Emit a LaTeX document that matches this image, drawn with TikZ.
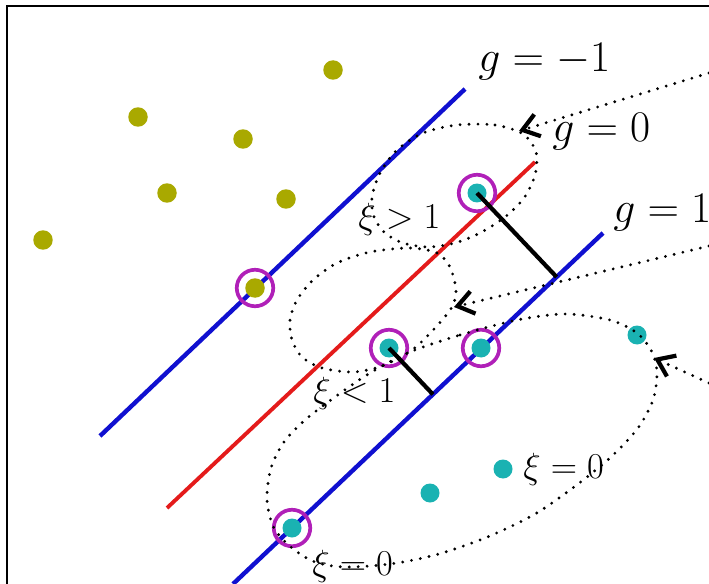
\documentclass[tikz,border=0pt]{standalone}
\usepackage{amsmath}
\usetikzlibrary{
  arrows.meta,
  calc
}
\definecolor{classa}{HTML}{A9A900}
\definecolor{classb}{HTML}{1AB2B2}
\definecolor{ring}{HTML}{B020B8}
\definecolor{marginblue}{HTML}{1010D0}
\definecolor{boundred}{HTML}{E41B1B}
\tikzset{
  plotframe/.style={
    draw=black,
    line width=1.1pt
  },
  marginline/.style={
    draw=marginblue,
    line width=2.5pt
  },
  boundline/.style={
    draw=boundred,
    line width=2.2pt
  },
  slackline/.style={
    draw=black,
    line width=2.4pt
  },
  dota/.style={
    circle,
    fill=classa,
    minimum size=3.9mm,
    inner sep=0pt
  },
  dotb/.style={
    circle,
    fill=classb,
    minimum size=3.8mm,
    inner sep=0pt
  },
  svring/.style={
    circle,
    draw=ring,
    line width=2.1pt,
    minimum size=7.3mm,
    inner sep=0pt
  },
  freehand/.style={
    dash pattern=on 0pt off 5.1pt,
    line cap=round,
    line width=1.8pt
  },
  notearrow/.style={
    freehand,
    -{Straight Barb[length=9pt, width=13pt, line width=2.4pt]}
  },
  glabel/.style={
    anchor=base west,
    inner sep=0pt,
    font=\fontsize{23.5}{28}\selectfont
  },
  xilabel/.style={
    anchor=base west,
    inner sep=0pt,
    font=\fontsize{21}{25}\selectfont
  }
}

\begin{document}
\begin{tikzpicture}[x=0.02cm, y=-0.02cm]
  \useasboundingbox (0,0) rectangle (709,584);
  \draw[plotframe] (7,590) -- (7,6) -- (715,6);

  % margins and decision boundary
  \coordinate (m1a) at (100,436);
  \coordinate (m1b) at (465,89);
  \coordinate (m0a) at (167,508);
  \coordinate (m0b) at (535,162);
  \coordinate (m2a) at (233,584);
  \coordinate (m2b) at (603,233);
  \draw[marginline] (m1a) -- (m1b);
  \draw[boundline] (m0a) -- (m0b);
  \draw[marginline] (m2a) -- (m2b);

  % data points
  \foreach \n/\x/\y in {a1/333/70,a2/138/117,a3/243/139,a4/167/193,
                        a5/286/199,a6/43/240,a7/255/288}{
    \node[dota] (\n) at (\x,\y) {};
  }
  \foreach \n/\x/\y in {b1/477/193,b2/389/348,b3/481/348,b4/637/335,
                        b5/503/469,b6/430/493,b7/292/528}{
    \node[dotb] (\n) at (\x,\y) {};
  }
  \foreach \n in {a7,b1,b2,b3,b7}{
    \node[svring] (r\n) at (\n) {};
  }

  % slack distances
  \coordinate (f1) at ($(m2a)!(b1.center)!(m2b)$);
  \coordinate (f2) at ($(m2a)!(b2.center)!(m2b)$);
  \draw[slackline] (b1.center) -- (f1);
  \draw[slackline] (b2.center) -- (f2);

  \node[glabel] (gm) at (478,72) {$g=-1$};
  \node[glabel] (gz) at (552,142) {$g=0$};
  \node[glabel] (gp) at (613,222) {$g=1$};
  \node[xilabel] (xa) at (358,228) {$\xi>1$};
  \node[xilabel] (xb) at (313,402) {$\xi<1$};
  \node[xilabel] (xc) at (523,478) {$\xi=0$};
  \node[xilabel] (xd) at (312,575) {$\xi=0$};

  % hand-drawn regions
  \draw[freehand] plot[smooth cycle] coordinates {
    (457,125) (495,125) (523,134) (536,152) (535,175) (524,198)
    (505,217) (480,233) (455,243) (428,247) (403,243) (385,233)
    (374,217) (372,197) (380,173) (397,150) (423,133)};
  \draw[freehand] plot[smooth cycle] coordinates {
    (410,248) (437,253) (450,267) (456,290) (452,307) (435,328)
    (412,350) (382,366) (353,372) (322,368) (302,357) (292,340)
    (290,320) (297,300) (313,280) (337,263) (370,252)};
  \draw[freehand] plot[smooth cycle] coordinates {
    (410,352) (460,335) (517,320) (565,314) (610,320) (637,333)
    (652,352) (657,373) (653,400) (638,428) (612,456) (578,484)
    (535,514) (485,538) (435,555) (390,564) (345,567) (315,562)
    (292,548) (274,528) (267,500) (271,468) (284,442) (305,420)
    (335,397) (370,373)};

  \coordinate (sa) at (709,73);
  \coordinate (ta) at (519,131);
  \coordinate (sb) at (709,246);
  \coordinate (tb) at (454,307);
  \coordinate (sc) at (709,383);
  \coordinate (tc) at (654,358);
  \foreach \a/\b in {sa/ta,sb/tb,sc/tc}{
    \draw[notearrow] (\a) -- (\b);
  }
\end{tikzpicture}
\end{document}
